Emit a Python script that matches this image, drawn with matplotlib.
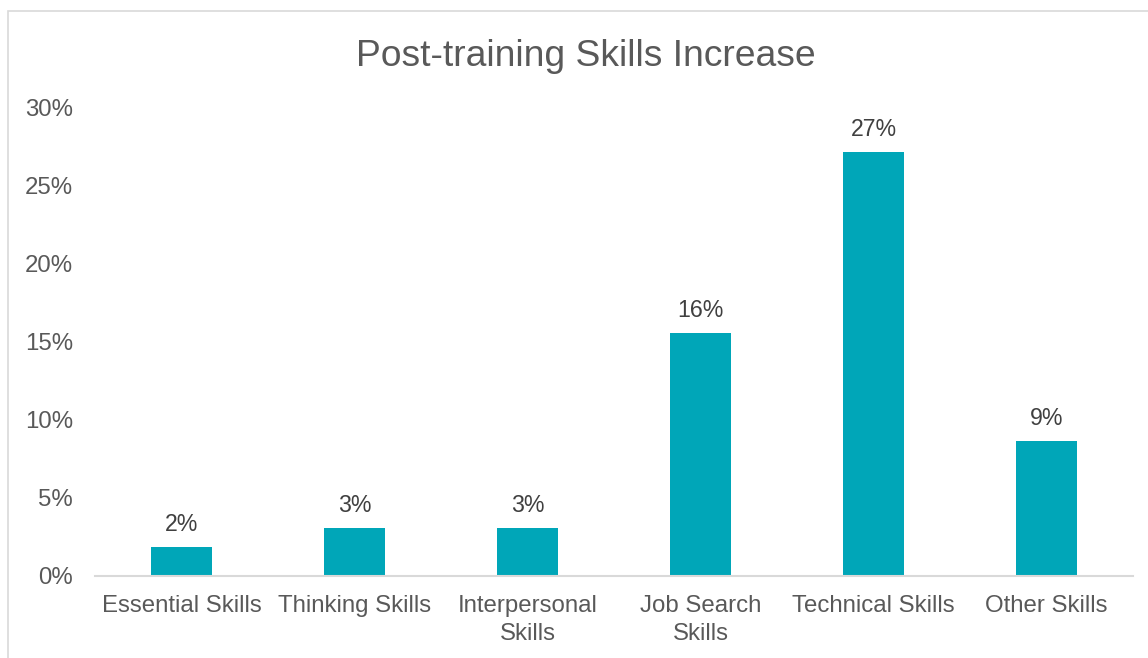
import matplotlib.pyplot as plt
from matplotlib.patches import Rectangle
from matplotlib.ticker import FuncFormatter

plt.rcParams['font.family'] = ['Liberation Sans', 'DejaVu Sans']

# Dados do gráfico
categorias = ['Essential Skills', 'Thinking Skills', 'Interpersonal\nSkills',
              'Job Search\nSkills', 'Technical Skills', 'Other Skills']
valores = [1.85, 3.07, 3.07, 15.55, 27.13, 8.64]
ticks_y = [0, 5, 10, 15, 20, 25, 30]

cor_barra = '#00A6B8'
cor_texto = '#595959'

W, H = 1148, 658
fig = plt.figure(figsize=(W / 100, H / 100), dpi=100)

# Moldura da área do gráfico
fig.patches.append(Rectangle((8 / W, -0.05), 1.2, 1 - 11 / H + 0.05,
                             transform=fig.transFigure, fill=False,
                             edgecolor='#D9D9D9', linewidth=1.2))

ax = fig.add_axes([95 / W, (H - 576) / H, 1038 / W, (576 - 107) / H])
x = range(len(categorias))
barras = ax.bar(x, valores, width=0.35, color=cor_barra, zorder=2)

for b, v in zip(barras, valores):
    ax.annotate(f'{v:.0f}%', (b.get_x() + b.get_width() / 2, v),
                xytext=(0, 8), textcoords='offset points',
                ha='center', va='bottom', fontsize=16.7, color='#404040')

ax.set_xlim(-0.5, len(categorias) - 0.5)
ax.set_ylim(0, 30)
ax.set_yticks(ticks_y)
ax.yaxis.set_major_formatter(FuncFormatter(lambda v, p: f'{v:.0f}%'))
ax.set_xticks(list(x))
ax.set_xticklabels(categorias)

for s in ['top', 'right', 'left']:
    ax.spines[s].set_visible(False)
ax.spines['bottom'].set_color('#D9D9D9')
ax.spines['bottom'].set_linewidth(1.5)
ax.tick_params(axis='both', length=0, labelsize=17.3, colors=cor_texto)
ax.tick_params(axis='y', pad=16)
ax.tick_params(axis='x', pad=14)
for lbl in ax.get_xticklabels():
    lbl.set_linespacing(1.3)

fig.text(586 / W, 1 - 56 / H, 'Post-training Skills Increase', ha='center',
         va='center', fontsize=26.8, color=cor_texto)

fig.savefig('out.png', dpi=100)
